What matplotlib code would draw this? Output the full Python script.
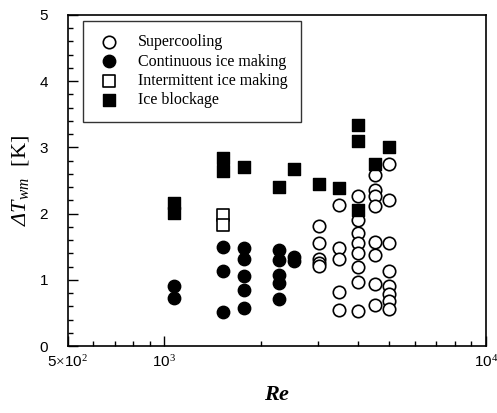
import numpy as np
import matplotlib.pyplot as plt
from matplotlib.ticker import FixedLocator, NullFormatter, MultipleLocator

plt.rcParams['mathtext.fontset'] = 'custom'
plt.rcParams['mathtext.rm'] = 'Liberation Serif'
plt.rcParams['mathtext.it'] = 'Liberation Serif:italic'
plt.rcParams['mathtext.bf'] = 'Liberation Serif:bold:italic'

# Supercooling (open circles)
sc_re = [3030, 3030, 3030, 3030, 3030,
         3500, 3500, 3500, 3500, 3500,
         4000, 4000, 4000, 4000, 4000, 4000, 4000, 4000,
         4500, 4500, 4500, 4500, 4500, 4500, 4500, 4500,
         5000, 5000, 5000, 5000, 5000, 5000, 5000, 5000]
sc_dt = [1.81, 1.55, 1.31, 1.26, 1.21,
         2.13, 1.48, 1.32, 0.82, 0.54,
         2.26, 1.90, 1.70, 1.55, 1.40, 1.20, 0.96, 0.53,
         2.59, 2.36, 2.26, 2.12, 1.57, 1.38, 0.93, 0.62,
         2.75, 2.21, 1.55, 1.14, 0.90, 0.79, 0.68, 0.56]

# Continuous ice making (filled circles)
ci_re = [1070, 1070,
         1520, 1520, 1520,
         1770, 1770, 1770, 1770, 1770,
         2270, 2270, 2270, 2270, 2270,
         2520, 2520]
ci_dt = [0.90, 0.72,
         1.50, 1.13, 0.51,
         1.48, 1.31, 1.06, 0.85, 0.57,
         1.45, 1.30, 1.07, 0.95, 0.71,
         1.34, 1.28]

# Intermittent ice making (open squares)
ii_re = [1520, 1520]
ii_dt = [1.98, 1.83]

# Ice blockage (filled squares)
ib_re = [1070, 1070, 1520, 1520, 1770, 2270, 2520, 3030, 3500,
         4000, 4000, 4000, 4500, 5000]
ib_dt = [2.16, 2.01, 2.84, 2.64, 2.70, 2.40, 2.67, 2.45, 2.38,
         3.33, 3.10, 2.05, 2.75, 3.00]

fig = plt.figure(figsize=(4.97, 4.13), dpi=100)
ax = fig.add_axes([0.136, 0.162, 0.842, 0.802])

ms = 80
ax.scatter(sc_re, sc_dt, s=ms, marker='o', facecolors='white', edgecolors='black', linewidths=1.2, label='Supercooling', zorder=3)
ax.scatter(ci_re, ci_dt, s=ms, marker='o', facecolors='black', edgecolors='black', linewidths=1.0, label='Continuous ice making', zorder=3)
ax.scatter(ii_re, ii_dt, s=ms * 0.9, marker='s', facecolors='white', edgecolors='black', linewidths=1.2, label='Intermittent ice making', zorder=3)
ax.scatter(ib_re, ib_dt, s=ms * 0.9, marker='s', facecolors='black', edgecolors='black', linewidths=1.0, label='Ice blockage', zorder=4)

ax.set_xscale('log')
ax.set_xlim(500, 1e4)
ax.set_ylim(0, 5)

ax.xaxis.set_major_locator(FixedLocator([500, 1000, 10000]))
ax.set_xticklabels([r'5$\times$10$^2$', r'10$^3$', r'10$^4$'])
minors = [600, 700, 800, 900] + list(range(2000, 10000, 1000))
ax.xaxis.set_minor_locator(FixedLocator(minors))
ax.xaxis.set_minor_formatter(NullFormatter())
ax.yaxis.set_major_locator(MultipleLocator(1))
ax.yaxis.set_minor_locator(MultipleLocator(0.2))

for lab in ax.get_xticklabels() + ax.get_yticklabels():
    lab.set_family('Liberation Sans')
    lab.set_fontsize(11)

ax.tick_params(which='both', direction='in', top=False, right=False, width=1)
ax.tick_params(which='major', length=7)
ax.tick_params(which='minor', length=3.5)
ax.tick_params(axis='x', which='major', pad=6)
ax.tick_params(axis='y', which='major', pad=14)
for sp in ax.spines.values():
    sp.set_linewidth(1.2)

ax.set_xlabel(r'$\mathbf{Re}$', fontsize=16, labelpad=10)
ax.set_ylabel(r'ΔT$_{wm}$  $\mathrm{[K]}$', fontsize=16, family='Liberation Serif',
              fontstyle='italic', labelpad=6)

leg = ax.legend(loc='upper left', bbox_to_anchor=(0.037, 0.982), frameon=True, fancybox=False,
                edgecolor='black', borderpad=0.85, borderaxespad=0, labelspacing=0.2,
                handletextpad=1.0, handlelength=1.6,
                prop={'family': 'Liberation Serif', 'size': 11.5})
leg.get_frame().set_linewidth(1.0)

fig.savefig('out.png', dpi=100)
